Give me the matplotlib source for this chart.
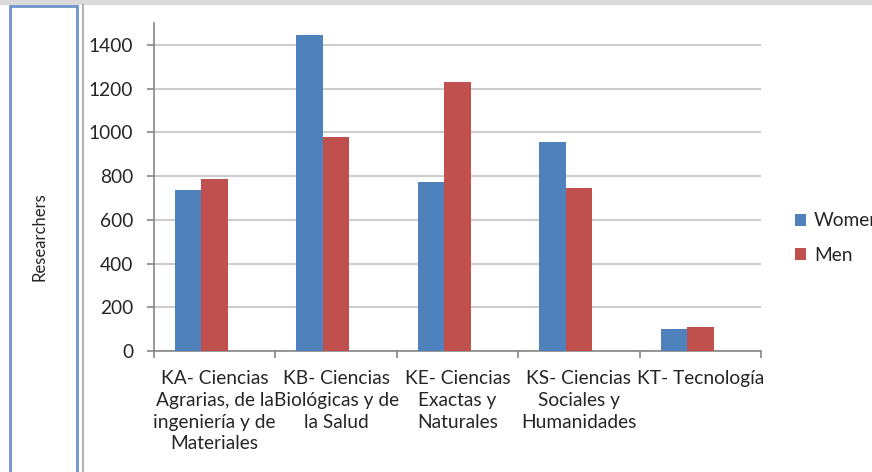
import numpy as np
import matplotlib.pyplot as plt
from matplotlib.patches import Rectangle
from matplotlib.lines import Line2D

# data
categories = [
    "KA- Ciencias\nAgrarias, de la\ningeniería y de\nMateriales",
    "KB- Ciencias\nBiológicas y de\nla Salud",
    "KE- Ciencias\nExactas y\nNaturales",
    "KS- Ciencias\nSociales y\nHumanidades",
    "KT- Tecnología",
]
women = [735, 1445, 775, 955, 100]
men = [785, 980, 1230, 745, 108]
y_ticks = [0, 200, 400, 600, 800, 1000, 1200, 1400]

blue = '#4f81bd'
red = '#c0504d'
text_col = '#262626'

plt.rcParams['font.family'] = ['Lato', 'DejaVu Sans']

W, H = 872, 472
fig = plt.figure(figsize=(W / 100, H / 100), dpi=100)

# frame decorations around the chart
fig.patches.append(Rectangle((0, 1 - 5 / H), 1, 5 / H, transform=fig.transFigure,
                             facecolor='#d9d9d9', edgecolor='none', zorder=0))
fig.patches.append(Rectangle((10 / W, -0.05), 67 / W, 1.05 - 6 / H, transform=fig.transFigure,
                             facecolor='white', edgecolor='#6c93cb', linewidth=2, zorder=1))
fig.lines.append(Line2D([83 / W, 83 / W], [0, 1 - 5 / H], transform=fig.transFigure,
                        color='#b4b4b4', linewidth=1.5))
fig.text(40 / W, 1 - 237 / H, 'Researchers', rotation=90, ha='center', va='center',
         fontsize=12, color=text_col)

ax = fig.add_axes([154 / W, 121 / H, (761 - 154) / W, (449 - 121) / H])

x = np.arange(len(categories))
w = 0.218
ax.bar(x - w, women, width=w, color=blue, label='Women', zorder=3)
ax.bar(x, men, width=w, color=red, label='Men', zorder=3)

ax.set_xlim(-0.5, len(categories) - 0.5)
ax.set_ylim(0, 1500)
ax.set_yticks(y_ticks)
ax.yaxis.grid(True, color='#cdcdcd', linewidth=1.5, zorder=0)
ax.set_axisbelow(True)

ax.set_xticks(x)
ax.set_xticklabels(categories, fontsize=13.8, color=text_col, linespacing=1.33)
ax.set_xticks(np.arange(len(categories) + 1) - 0.5, minor=True)
ax.tick_params(axis='x', which='major', length=0, pad=14)
ax.tick_params(axis='x', which='minor', length=5, color='#868686', width=1.2)
ax.tick_params(axis='y', length=5, color='#868686', width=1.2, labelsize=13.8,
               labelcolor=text_col, pad=10)

for s in ['top', 'right']:
    ax.spines[s].set_visible(False)
for s in ['left', 'bottom']:
    ax.spines[s].set_color('#868686')
    ax.spines[s].set_linewidth(1.2)

handles, labels = ax.get_legend_handles_labels()
fig.legend(handles, labels, loc='center left', bbox_to_anchor=(787 / W, 1 - 238 / H),
           frameon=False, handlelength=0.6, handleheight=0.6, handletextpad=0.4,
           labelspacing=0.9, fontsize=13.8, labelcolor=text_col, borderaxespad=0)

fig.savefig('out.png', dpi=100)
